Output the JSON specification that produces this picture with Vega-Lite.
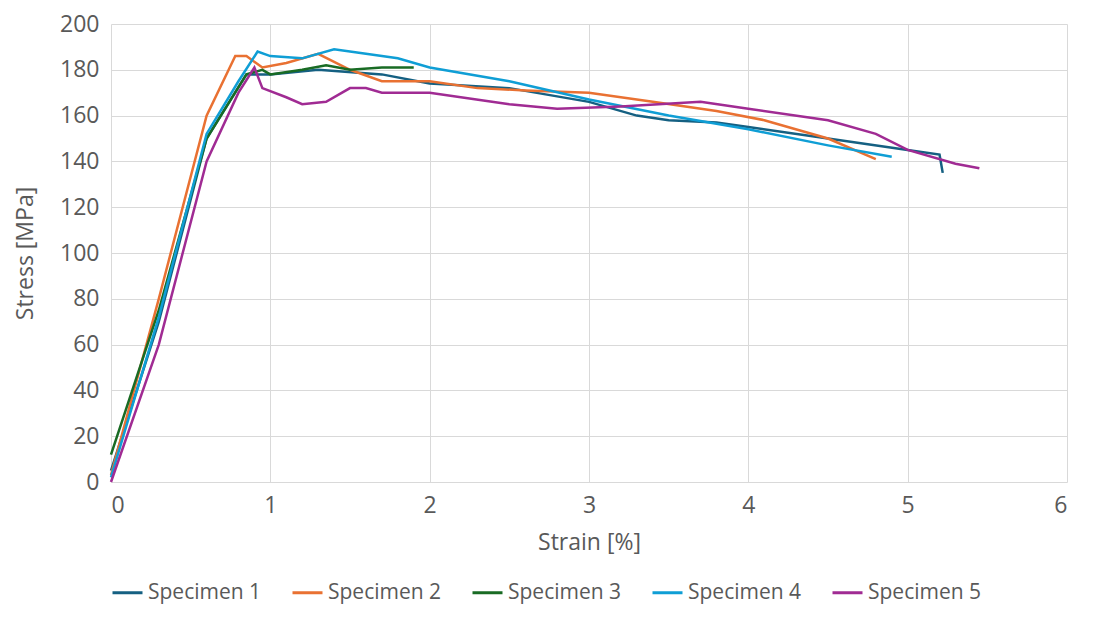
{
  "$schema": "https://vega.github.io/schema/vega-lite/v6.json",
  "width": 956,
  "height": 458,
  "padding": {"left": 14, "top": 13, "right": 15, "bottom": 5},
  "background": "white",
  "config": {
    "view": {"stroke": null},
    "font": "Open Sans",
    "axis": {"labelColor": "#595959", "titleColor": "#595959", "labelFontSize": 23, "titleFontSize": 23, "titleFontWeight": "normal", "grid": true, "gridColor": "#d9d9d9", "ticks": false, "domain": false, "labelPadding": 12},
    "legend": {"labelColor": "#595959", "labelFontSize": 21, "orient": "bottom", "direction": "horizontal", "symbolType": "stroke", "symbolStrokeWidth": 3, "symbolSize": 900, "columnPadding": 24, "title": null, "offset": 22}
  },
  "data": {"values": [
    {"s":"Specimen 1","x":0,"y":5},{"s":"Specimen 1","x":0.3,"y":70},{"s":"Specimen 1","x":0.6,"y":150},{"s":"Specimen 1","x":0.85,"y":178},{"s":"Specimen 1","x":1.0,"y":178},{"s":"Specimen 1","x":1.3,"y":180},{"s":"Specimen 1","x":1.7,"y":178},{"s":"Specimen 1","x":2.0,"y":174},{"s":"Specimen 1","x":2.5,"y":172},{"s":"Specimen 1","x":3.0,"y":166},{"s":"Specimen 1","x":3.3,"y":160},{"s":"Specimen 1","x":3.5,"y":158},{"s":"Specimen 1","x":3.8,"y":157},{"s":"Specimen 1","x":4.0,"y":155},{"s":"Specimen 1","x":4.5,"y":150},{"s":"Specimen 1","x":5.0,"y":145},{"s":"Specimen 1","x":5.2,"y":143},{"s":"Specimen 1","x":5.22,"y":135},
    {"s":"Specimen 2","x":0,"y":3},{"s":"Specimen 2","x":0.3,"y":80},{"s":"Specimen 2","x":0.6,"y":160},{"s":"Specimen 2","x":0.78,"y":186},{"s":"Specimen 2","x":0.85,"y":186},{"s":"Specimen 2","x":0.95,"y":181},{"s":"Specimen 2","x":1.1,"y":183},{"s":"Specimen 2","x":1.3,"y":187},{"s":"Specimen 2","x":1.5,"y":180},{"s":"Specimen 2","x":1.7,"y":175},{"s":"Specimen 2","x":2.0,"y":175},{"s":"Specimen 2","x":2.3,"y":172},{"s":"Specimen 2","x":2.6,"y":171},{"s":"Specimen 2","x":3.0,"y":170},{"s":"Specimen 2","x":3.4,"y":166},{"s":"Specimen 2","x":3.8,"y":162},{"s":"Specimen 2","x":4.1,"y":158},{"s":"Specimen 2","x":4.5,"y":150},{"s":"Specimen 2","x":4.8,"y":141},
    {"s":"Specimen 3","x":0,"y":12},{"s":"Specimen 3","x":0.3,"y":75},{"s":"Specimen 3","x":0.6,"y":150},{"s":"Specimen 3","x":0.85,"y":178},{"s":"Specimen 3","x":0.95,"y":180},{"s":"Specimen 3","x":1.0,"y":178},{"s":"Specimen 3","x":1.2,"y":180},{"s":"Specimen 3","x":1.35,"y":182},{"s":"Specimen 3","x":1.5,"y":180},{"s":"Specimen 3","x":1.7,"y":181},{"s":"Specimen 3","x":1.9,"y":181},
    {"s":"Specimen 4","x":0,"y":2},{"s":"Specimen 4","x":0.3,"y":72},{"s":"Specimen 4","x":0.6,"y":152},{"s":"Specimen 4","x":0.8,"y":175},{"s":"Specimen 4","x":0.92,"y":188},{"s":"Specimen 4","x":1.0,"y":186},{"s":"Specimen 4","x":1.2,"y":185},{"s":"Specimen 4","x":1.4,"y":189},{"s":"Specimen 4","x":1.6,"y":187},{"s":"Specimen 4","x":1.8,"y":185},{"s":"Specimen 4","x":2.0,"y":181},{"s":"Specimen 4","x":2.5,"y":175},{"s":"Specimen 4","x":3.0,"y":167},{"s":"Specimen 4","x":3.5,"y":160},{"s":"Specimen 4","x":4.0,"y":154},{"s":"Specimen 4","x":4.5,"y":147},{"s":"Specimen 4","x":4.9,"y":142},
    {"s":"Specimen 5","x":0,"y":0},{"s":"Specimen 5","x":0.3,"y":60},{"s":"Specimen 5","x":0.6,"y":140},{"s":"Specimen 5","x":0.8,"y":170},{"s":"Specimen 5","x":0.9,"y":181},{"s":"Specimen 5","x":0.95,"y":172},{"s":"Specimen 5","x":1.1,"y":168},{"s":"Specimen 5","x":1.2,"y":165},{"s":"Specimen 5","x":1.35,"y":166},{"s":"Specimen 5","x":1.5,"y":172},{"s":"Specimen 5","x":1.6,"y":172},{"s":"Specimen 5","x":1.7,"y":170},{"s":"Specimen 5","x":2.0,"y":170},{"s":"Specimen 5","x":2.5,"y":165},{"s":"Specimen 5","x":2.8,"y":163},{"s":"Specimen 5","x":3.2,"y":164},{"s":"Specimen 5","x":3.7,"y":166},{"s":"Specimen 5","x":4.0,"y":163},{"s":"Specimen 5","x":4.5,"y":158},{"s":"Specimen 5","x":4.8,"y":152},{"s":"Specimen 5","x":5.0,"y":145},{"s":"Specimen 5","x":5.3,"y":139},{"s":"Specimen 5","x":5.45,"y":137}
  ]},
  "mark": {"type": "line", "strokeWidth": 2.5},
  "encoding": {
    "x": {"field": "x", "type": "quantitative", "title": "Strain [%]", "scale": {"domain": [0, 6]}, "axis": {"tickCount": 6, "titlePadding": 14}},
    "y": {"field": "y", "type": "quantitative", "title": "Stress [MPa]", "scale": {"domain": [0, 200]}, "axis": {"tickCount": 10, "titlePadding": 22}},
    "color": {"field": "s", "type": "nominal", "scale": {"range": ["#156082", "#E97132", "#196B24", "#0F9ED5", "#A02B93"]}},
    "order": {"field": "x", "type": "quantitative"}
  }
}
